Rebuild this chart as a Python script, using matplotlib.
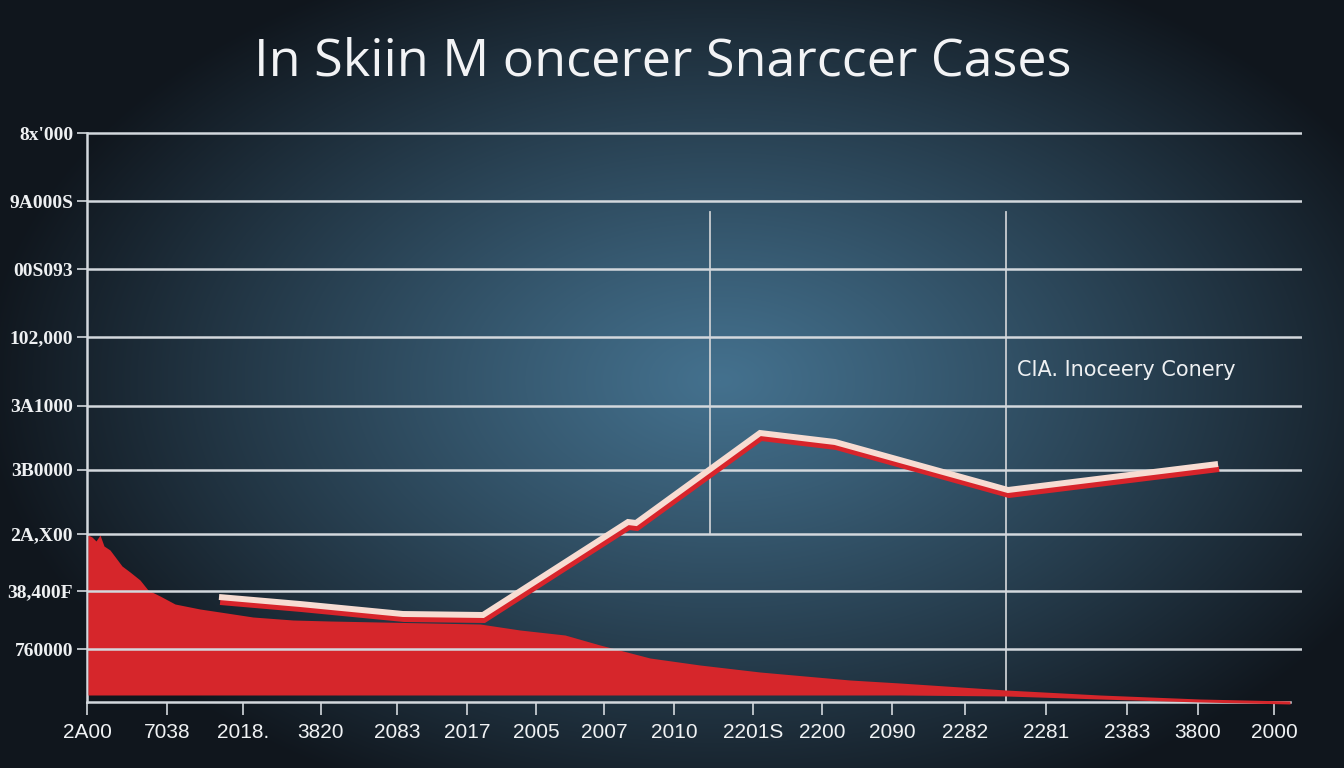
import numpy as np
import matplotlib
matplotlib.use("Agg")
import matplotlib.pyplot as plt
import matplotlib.patheffects as pe
from matplotlib.colors import to_rgb

# ---------------- data ----------------
title = "In Skiin M oncerer Snarccer Cases"
annotation = "CIA. Inoceery Conery"

y_tick_labels = ["8x'000", "9A000S", "00S093", "102,000", "3A1000",
                 "3B0000", "2A,X00", "38,400F", "760000"]
y_tick_values = [569, 501, 433, 365, 296, 232, 168, 111, 53]

x_tick_labels = ["2A00", "7038", "2018.", "3820", "2083", "2017", "2005",
                 "2007", "2010", "2201S", "2200", "2090", "2282", "2281",
                 "2383", "3800", "2000"]
x_tick_values = [87, 167, 243, 321, 397, 467, 536, 604, 674, 753, 822,
                 892, 965, 1046, 1127, 1198, 1274]

# red area series
area_x = [88, 92, 96, 100, 104, 110, 116, 122, 130, 140, 148, 160, 175, 200,
          220, 253, 293, 330, 380, 430, 480, 520, 565, 600, 650, 700, 760,
          850, 900, 1006, 1100, 1200, 1290]
area_top = [167, 165, 161, 167, 156, 152, 144, 136, 130, 122, 112, 106, 98,
            93, 90, 85, 82, 81, 80, 79, 78, 72, 67, 57, 44, 37, 30, 22, 19,
            12, 7, 3, 1]
area_bottom = [7, 7, 7, 7, 7, 7, 7, 7, 7, 7, 7, 7, 7, 7, 7, 7, 7, 7, 7, 7, 7,
               7, 7, 7, 7, 7, 7, 7, 7, 6, 3, 0, -2]

# highlighted line series
line_x = [219, 300, 403, 483, 628, 636, 760, 835, 1008, 1218]
line_y = [105, 98, 88, 87, 180, 179, 269, 260, 212, 238]

# vertical marker lines
vline_x = [710, 1006]
vline_lo = [169, 0]
vline_hi = [490, 490]

# ---------------- figure ----------------
W, H = 1344, 768
fig = plt.figure(figsize=(W / 100, H / 100), dpi=100)

# radial gradient background
bg = fig.add_axes([0, 0, 1, 1])
yy, xx = np.mgrid[0:H, 0:W]
dx = (xx - 720) / 740.0
dy = (yy - 380) / 460.0
t = np.clip(np.sqrt(dx ** 2 + dy ** 2), 0, 1) ** 1.1
c_center = np.array(to_rgb("#44718e"))
c_edge = np.array(to_rgb("#10161d"))
img = c_center[None, None, :] * (1 - t[..., None]) + c_edge[None, None, :] * t[..., None]
bg.imshow(img, aspect="auto", extent=[0, 1, 0, 1], origin="upper")
bg.set_axis_off()

ax = fig.add_axes([87 / W, (H - 702) / H, (1302 - 87) / W, (702 - 120) / H])
ax.set_facecolor("none")
ax.set_xlim(87, 1302)
ax.set_ylim(0, 582)

grid_c = "#d3d8dd"
# gridlines (drawn over the red area)
for v in y_tick_values:
    ax.axhline(v, color=grid_c, lw=1.8, zorder=4)

# vertical marker lines
for vx, lo, hi in zip(vline_x, vline_lo, vline_hi):
    ax.plot([vx, vx], [lo, hi], color="#c9cdd1", lw=1.3, zorder=2)

# red area
ax.fill_between(area_x, area_bottom, area_top, color="#d6262b", lw=0,
                zorder=3, clip_on=False)

# highlighted line with red shadow
ax.plot(line_x, line_y, color="#f7dcd2", lw=4.3, solid_joinstyle="miter",
        solid_capstyle="butt", zorder=5,
        path_effects=[pe.SimpleLineShadow(offset=(0.8, -3.6),
                                          shadow_color="#d8242b", alpha=1.0),
                      pe.Normal()])

# axes styling
for s in ["top", "right"]:
    ax.spines[s].set_visible(False)
ax.spines["left"].set_color(grid_c)
ax.spines["left"].set_linewidth(1.8)
ax.spines["left"].set_bounds(0, 569)
ax.spines["bottom"].set_color(grid_c)
ax.spines["bottom"].set_linewidth(1.8)
ax.spines["bottom"].set_bounds(87, 1290)

ax.set_yticks(y_tick_values)
ax.set_yticklabels(y_tick_labels, fontfamily="Liberation Serif",
                   fontsize=14, fontweight="bold", color="#eef0f2")
ax.tick_params(axis="y", direction="out", length=7, width=1.2,
               color=grid_c, pad=3)

ax.set_xticks(x_tick_values)
ax.set_xticklabels(x_tick_labels, fontfamily="Liberation Sans",
                   fontsize=15, color="#f0f2f4")
ax.tick_params(axis="x", direction="out", length=9, width=1.2,
               color=grid_c, pad=6)

# title
fig.text(663 / W, 1 - 62 / H, title, ha="center", va="center",
         fontfamily="Open Sans", fontsize=37.5, color="#f2f3f5")

# annotation
ax.text(1017, 702 - 370, annotation, ha="left", va="center",
        fontfamily="DejaVu Sans", fontsize=15, color="#eef0f2")

fig.savefig("out.png", dpi=100)
